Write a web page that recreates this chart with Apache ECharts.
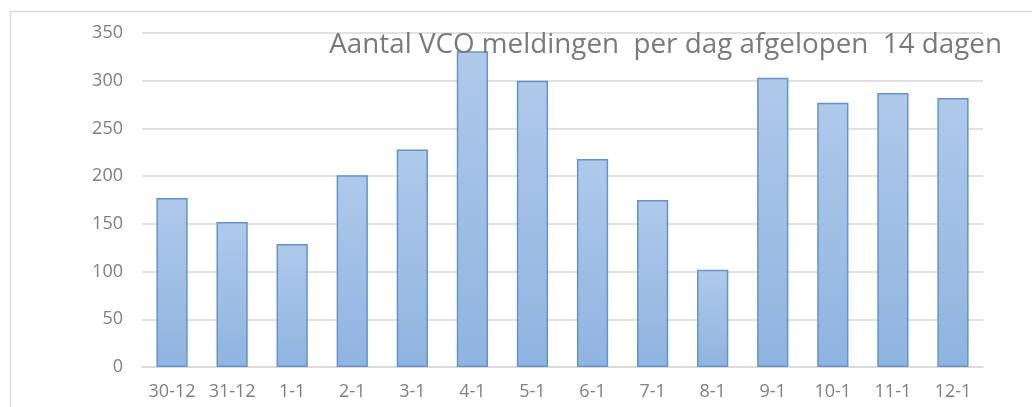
<!DOCTYPE html>
<html><head><meta charset="utf-8">
<script src="https://cdn.jsdelivr.net/npm/echarts@6/dist/echarts.min.js"></script>
<style>html,body{margin:0;padding:0;background:#fff}#c{width:1032px;height:407px}</style>
</head><body><div id="c"></div>
<script>
const titleText = 'Aantal VCO meldingen  per dag afgelopen  14 dagen';
const categories = ['30-12','31-12','1-1','2-1','3-1','4-1','5-1','6-1','7-1','8-1','9-1','10-1','11-1','12-1'];
const values = [177,152,129,201,228,331,300,218,175,102,303,277,287,282];
const yTicks = [0,50,100,150,200,250,300,350];

const chart = echarts.init(document.getElementById('c'), null, {renderer:'canvas'});
chart.setOption({
  animation:false,
  backgroundColor:'#ffffff',
  graphic:[{type:'rect',shape:{x:10.5,y:11.5,width:1100,height:500},style:{fill:'none',stroke:'#d9d9d9',lineWidth:1.5},silent:true,z:-1}],
  title:{text:titleText,right:25,top:26,textStyle:{fontFamily:'Open Sans',fontWeight:'normal',fontSize:27.8,color:'#7a7a7a'}},
  grid:{left:142,right:49,top:33,bottom:40,containLabel:false},
  xAxis:{type:'category',data:categories,
    axisLine:{lineStyle:{color:'#d9d9d9',width:1.5}},axisTick:{show:false},
    axisLabel:{interval:0,color:'#808080',fontFamily:'Open Sans',fontSize:18,margin:16}},
  yAxis:{type:'value',min:yTicks[0],max:yTicks[yTicks.length-1],interval:50,
    axisLine:{show:false},axisTick:{show:false},
    splitLine:{lineStyle:{color:'#d9d9d9',width:1.5}},
    axisLabel:{color:'#808080',fontFamily:'Open Sans',fontSize:18,margin:19}},
  series:[{type:'bar',data:values,barWidth:'52%',
    itemStyle:{color:new echarts.graphic.LinearGradient(0,0,0,1,[{offset:0,color:'#afc9ea'},{offset:1,color:'#8fb4e0'}]),
      borderColor:'#6294cf',borderWidth:1.5}}]
});
</script></body></html>
